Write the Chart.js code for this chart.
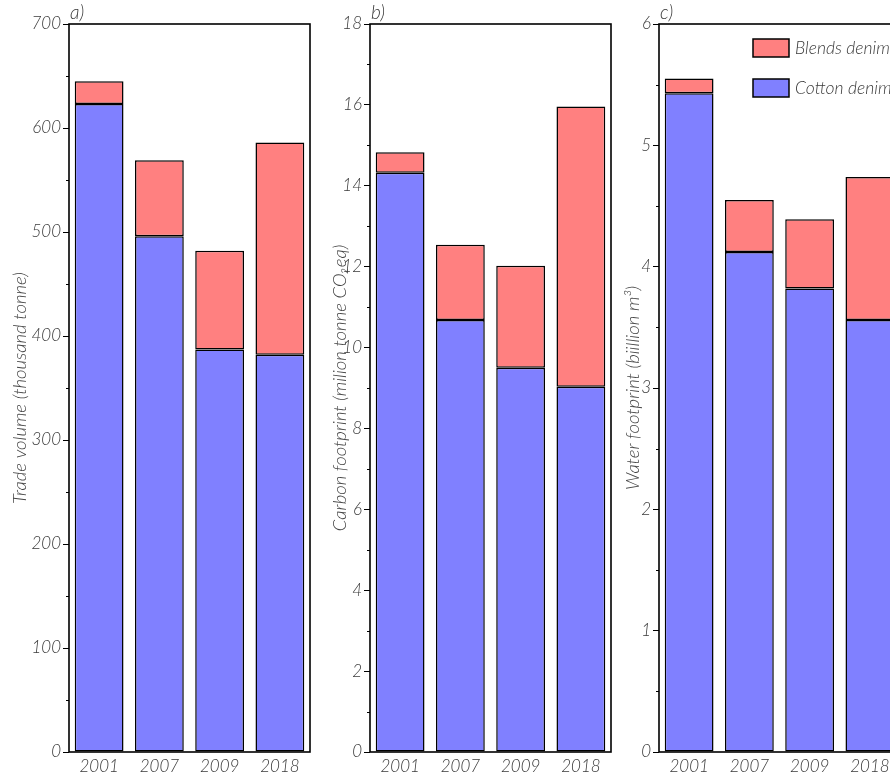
<!DOCTYPE html>
<html>
<head>
<meta charset="utf-8">
<script src="https://cdn.jsdelivr.net/npm/chart.js@4.4.1/dist/chart.umd.min.js"></script>
<style>
    html, body { margin: 0; padding: 0; background: #fff; overflow: hidden; }
    body { width: 890px; height: 775px; position: relative; }
    canvas { position: absolute; top: 0; }
</style>
</head>
<body>
<canvas id="panelA" width="314" height="775" style="left:0px"></canvas>
<canvas id="panelB" width="314" height="775" style="left:301px"></canvas>
<canvas id="panelC" width="314" height="775" style="left:590px"></canvas>
<script>
// ── Data ─────────────────────────────────────────────────────────────────────
const YEARS = ['2001', '2007', '2009', '2018'];

const TRADE_COTTON = [623, 496, 387, 382];
const TRADE_BLENDS = [22, 73, 95, 204];

const CARBON_COTTON = [14.32, 10.68, 9.50, 9.03];
const CARBON_BLENDS = [0.51, 1.86, 2.52, 6.93];

const WATER_COTTON = [5.43, 4.12, 3.82, 3.56];
const WATER_BLENDS = [0.12, 0.43, 0.57, 1.18];

const COTTON_COLOR = '#8080ff';
const BLENDS_COLOR = '#ff8080';
const FONT_FAMILY = "'Lato', 'Liberation Sans', sans-serif";
const TEXT_COLOR = '#3a3a3a';

// frame, minor ticks, panel letter and (optionally) legend
function decoPlugin(letter, minorStep, showLegend) {
    return {
        id: 'panelDeco',
        afterDraw(chart) {
            const { ctx, chartArea: a } = chart;
            const y = chart.scales.y;
            ctx.save();
            ctx.strokeStyle = '#000';
            ctx.lineWidth = 1;
            // minor ticks
            for (let v = minorStep; v < y.max; v += minorStep * 2) {
                const py = Math.round(y.getPixelForValue(v)) + 0.5;
                ctx.beginPath();
                ctx.moveTo(a.left - 3, py);
                ctx.lineTo(a.left, py);
                ctx.stroke();
            }
            // frame
            ctx.lineWidth = 1.6;
            ctx.strokeRect(a.left, a.top, a.right - a.left, a.bottom - a.top);
            // panel letter
            ctx.fillStyle = TEXT_COLOR;
            ctx.font = `italic 300 19px ${FONT_FAMILY}`;
            ctx.textBaseline = 'alphabetic';
            ctx.textAlign = 'left';
            ctx.fillText(letter, a.left + 1, 19);
            // legend inside plot area
            if (showLegend) {
                const items = [...chart.data.datasets].reverse();
                items.forEach((ds, i) => {
                    const bx = a.left + 94, by = a.top + 15 + i * 40;
                    ctx.fillStyle = ds.backgroundColor;
                    ctx.fillRect(bx, by, 36, 18);
                    ctx.lineWidth = 1.5;
                    ctx.strokeRect(bx, by, 36, 18);
                    ctx.fillStyle = TEXT_COLOR;
                    ctx.font = `italic 300 17.5px ${FONT_FAMILY}`;
                    ctx.textBaseline = 'middle';
                    ctx.fillText(ds.label, bx + 42, by + 9);
                });
            }
            ctx.restore();
        }
    };
}

// ── Stacked bar panel ────────────────────────────────────────────────────────
function renderPanel(canvasId, cotton, blends, cfg) {
    const ctx = document.getElementById(canvasId);
    const tickFont = { family: FONT_FAMILY, size: 17, style: 'italic', weight: '300' };

    return new Chart(ctx, {
        type: 'bar',
        data: {
            labels: YEARS,
            datasets: [
                {
                    label: 'Cotton denim',
                    data: cotton,
                    backgroundColor: COTTON_COLOR,
                    borderColor: '#000',
                    borderWidth: 1.5,
                    borderSkipped: false,
                    barPercentage: 0.81,
                    categoryPercentage: 1
                },
                {
                    label: 'Blends denim',
                    data: blends,
                    backgroundColor: BLENDS_COLOR,
                    borderColor: '#000',
                    borderWidth: 1.5,
                    borderSkipped: false,
                    barPercentage: 0.81,
                    categoryPercentage: 1
                }
            ]
        },
        options: {
            responsive: false,
            animation: false,
            layout: { padding: { top: 24, right: 4, left: 0, bottom: 0 } },
            plugins: { legend: { display: false }, tooltip: { enabled: false } },
            scales: {
                x: {
                    stacked: true,
                    grid: { display: false, drawTicks: false, tickLength: 0 },
                    border: { display: false },
                    ticks: { color: TEXT_COLOR, font: tickFont, padding: 4 },
                    afterFit: s => { s.height = 23; }
                },
                y: {
                    stacked: true,
                    min: 0,
                    max: cfg.max,
                    border: { display: false },
                    grid: { drawOnChartArea: false, tickLength: 6, color: '#000', lineWidth: 1 },
                    ticks: { stepSize: cfg.step, color: TEXT_COLOR, font: tickFont, padding: 2 },
                    title: {
                        display: true,
                        text: cfg.title,
                        color: '#444',
                        font: { family: FONT_FAMILY, size: 18.5, style: 'italic', weight: '300' },
                        padding: { top: cfg.titlePad, bottom: 0 }
                    },
                    afterFit: s => { s.width = 69; }
                }
            }
        },
        plugins: [decoPlugin(cfg.letter, cfg.step / 2, cfg.legend)]
    });
}

renderPanel('panelA', TRADE_COTTON, TRADE_BLENDS, {
    max: 700, step: 100, letter: 'a)', titlePad: 9, legend: false,
    title: 'Trade volume (thousand tonne)'
});
renderPanel('panelB', CARBON_COTTON, CARBON_BLENDS, {
    max: 18, step: 2, letter: 'b)', titlePad: 28, legend: false,
    title: 'Carbon footprint (milion tonne CO\u2082eq)'
});
renderPanel('panelC', WATER_COTTON, WATER_BLENDS, {
    max: 6, step: 1, letter: 'c)', titlePad: 32, legend: true,
    title: 'Water footprint (biillion m\u00B3)'
});
</script>
</body>
</html>
